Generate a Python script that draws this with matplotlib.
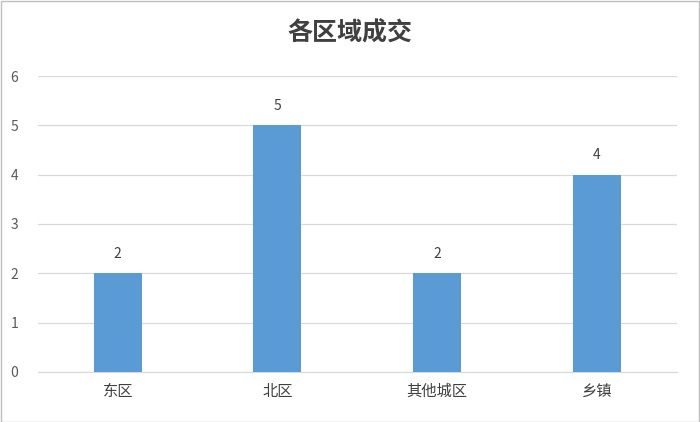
import matplotlib
matplotlib.use("Agg")
import matplotlib.pyplot as plt

plt.rcParams['font.family'] = ['Noto Sans CJK SC', 'DejaVu Sans']

categories = ["东区", "北区", "其他城区", "乡镇"]
values = [2, 5, 2, 4]
yticks = [0, 1, 2, 3, 4, 5, 6]

fig = plt.figure(figsize=(7.0, 4.22), dpi=100)
fig.patch.set_facecolor("white")

ax = fig.add_axes([0.054, 0.1185, 0.913, 0.7014])

x = list(range(len(categories)))
ax.bar(x, values, width=0.3, color="#5B9BD5", zorder=3)
for xi, v in zip(x, values):
    ax.annotate(str(v), (xi, v), xytext=(0, 9), textcoords="offset points",
                ha="center", va="bottom", fontsize=10, color="#404040")

ax.set_xlim(-0.5, len(categories) - 0.5)
ax.set_ylim(0, 6)
ax.set_yticks(yticks)
ax.set_xticks(x)
ax.set_xticklabels(categories, fontsize=11, color="#404040")
ax.tick_params(axis="y", labelsize=10, colors="#595959", length=0, pad=14)
ax.tick_params(axis="x", length=0, pad=8)
ax.grid(axis="y", color="#D9D9D9", linewidth=0.9, zorder=0)
for s in ["top", "right", "left"]:
    ax.spines[s].set_visible(False)
ax.spines["bottom"].set_color("#D9D9D9")

fig.text(0.5, 0.92, "各区域成交", ha="center", va="center", fontsize=18,
         fontweight="bold", color="#404040")

border = plt.Rectangle((0.001, 0.001), 0.997, 0.996, transform=fig.transFigure,
                       fill=False, edgecolor="#BFBFBF", linewidth=1)
fig.patches.append(border)

fig.savefig("out.png", dpi=100)
